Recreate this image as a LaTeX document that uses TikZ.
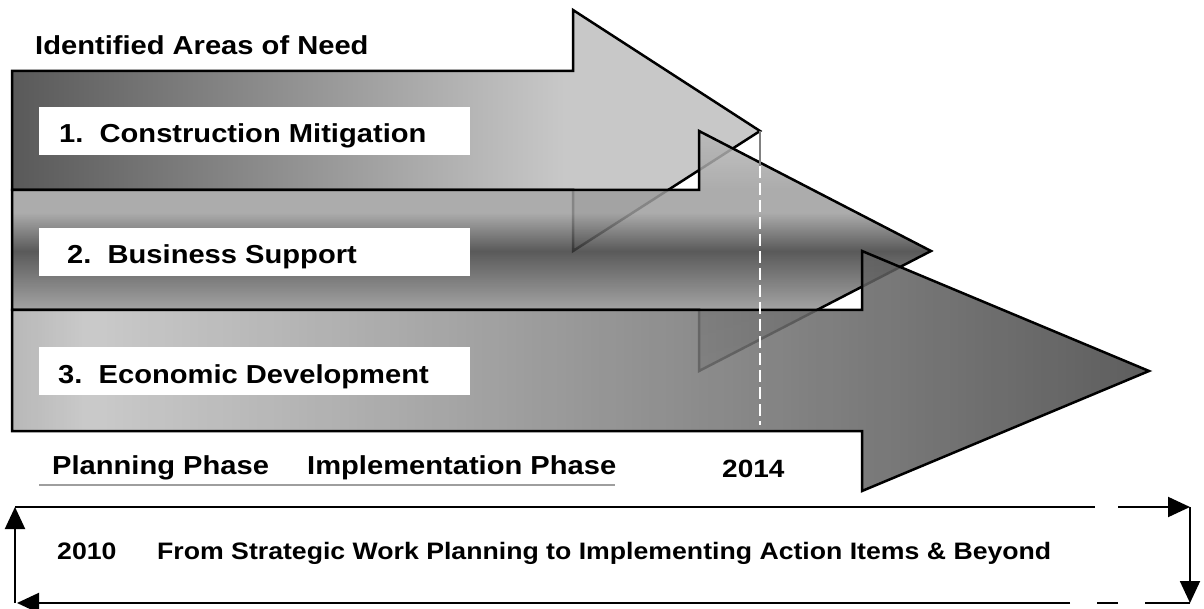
\documentclass[tikz,border=0pt]{standalone}
\usepackage{fontspec}
\setmainfont{Liberation Sans}[FakeStretch=1.12]
\usetikzlibrary{arrows.meta}

% grey levels of the three arrows
\definecolor{onedark}{gray}{0.35}
\definecolor{onelight}{gray}{0.785}
\definecolor{twoedge}{gray}{0.673}
\definecolor{twolow}{gray}{0.58}
\definecolor{twomid}{gray}{0.239}
\definecolor{twohigh}{gray}{0.616}
\definecolor{twotop}{gray}{0.728}
\definecolor{threeedge}{gray}{0.673}
\definecolor{threelight}{gray}{0.755}
\definecolor{threedark}{gray}{0.257}
\definecolor{phaseline}{gray}{0.62}

\pgfdeclarehorizontalshading{needone}{100bp}{color(0bp)=(onedark); color(25bp)=(onedark); color(62bp)=(onelight); color(100bp)=(onelight)}
\pgfdeclareverticalshading{needtwo}{100bp}{color(0bp)=(twoedge); color(25bp)=(twoedge); color(37.7bp)=(twolow); color(50bp)=(twomid); color(58bp)=(twohigh); color(62.7bp)=(twohigh); color(75bp)=(twotop); color(100bp)=(twotop)}
\pgfdeclarehorizontalshading{needthree}{100bp}{color(0bp)=(threeedge); color(25bp)=(threeedge); color(28.4bp)=(threelight); color(75bp)=(threedark); color(100bp)=(threedark)}

\begin{document}
\frenchspacing
\begin{tikzpicture}[x=1pt, y=-1pt,
  needarrow/.style = {draw=black, line width=2.5pt},
  whitebox/.style = {fill=white, inner sep=0pt, minimum width=431pt, minimum height=48pt},
  boxtext/.style = {inner sep=0pt, anchor=base west, font=\fontsize{26}{30}\selectfont\bfseries},
  smalltext/.style = {inner sep=0pt, anchor=base west, font=\fontsize{23.8}{28}\selectfont\bfseries},
  loopline/.style = {line width=2pt},
  looptip/.style = {-{Triangle[length=22pt, width=20pt]}}]

\useasboundingbox (0,0) rectangle (1204,609);

% Arrows
\draw[needarrow, shading=needone] (12,71) -- (573,71) -- (573,10) -- (760,131) -- (573,251) -- (573,190) -- (12,190) -- cycle;
\draw[needarrow, shading=needtwo, fill opacity=0.85] (12,190) -- (699,190) -- (699,131) -- (931,251) -- (699,371) -- (699,310) -- (12,310) -- cycle;
\draw[needarrow, shading=needthree, fill opacity=0.85] (12,310) -- (862,310) -- (862,251) -- (1149,371) -- (862,491) -- (862,431) -- (12,431) -- cycle;

% 2014 mark
\coordinate (tip1) at (760,131);
\coordinate (cross) at (760,166);
\coordinate (mark2014) at (760,425);
\draw[gray, line width=1.5pt] (tip1) -- (cross);
\draw[white, line width=1.5pt, dash pattern=on 12pt off 5pt] (cross) -- (mark2014);

% Boxes
\foreach \n/\y/\x/\txt in {1/131/59/{1.\ \ Construction Mitigation}, 2/252/67/{2.\ \ Business Support}, 3/371/58/{3.\ \ Economic Development}} {
  \node[whitebox] (box\n) at (254.5,\y) {};
  \node[boxtext] (item\n) at (\x,\y+12) {\txt};
}

% Labels
\node[boxtext] (needtitle) at (35,55) {Identified Areas of Need};
\node[boxtext] (planning) at (52,474) {Planning Phase};
\node[boxtext] (implementation) at (307,474) {Implementation Phase};
\node[boxtext, font=\fontsize{25}{30}\selectfont\bfseries] (year2014) at (722,477) {2014};
\draw[phaseline, line width=2.5pt] (39,485) -- (615,485);

% Loop
\coordinate (loopTL) at (15,507);
\coordinate (loopTR) at (1190,507);
\coordinate (loopBR) at (1190,603);
\coordinate (loopBL) at (17,603);
\draw[loopline] (loopTL) -- (1095,507);
\draw[loopline, looptip] (1118,507) -- (loopTR);
\draw[loopline, looptip] (loopTR) -- (loopBR);
\draw[loopline] (loopBR) -- (1145,603);
\draw[loopline] (1118,603) -- (1097,603);
\draw[loopline, looptip] (1070,603) -- (loopBL);
\draw[loopline, looptip] (15,603) -- (loopTL);

\node[smalltext] (year2010) at (57,559) {2010};
\node[smalltext] (loopcaption) at (157,559) {From Strategic Work Planning to Implementing Action Items \& Beyond};

\end{tikzpicture}
\end{document}
